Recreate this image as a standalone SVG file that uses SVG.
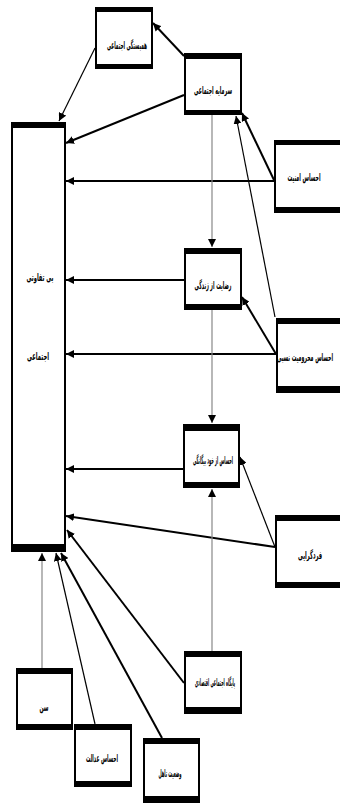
<svg xmlns="http://www.w3.org/2000/svg" width="340" height="803" viewBox="0 0 340 803">
<style>
.box{fill:#fff;stroke:#000;stroke-width:2}
.bar{fill:#000}
.t{font-family:"DejaVu Sans",sans-serif;font-size:11px;font-weight:bold;fill:#000;text-anchor:middle}
.thick{stroke:#000;stroke-width:2;fill:none}
.thin{stroke:#000;stroke-width:1.2;fill:none}
.gray{stroke:#888;stroke-width:1.2;fill:none}
</style>
<defs>
<marker id="ah" markerUnits="userSpaceOnUse" markerWidth="8" markerHeight="8" viewBox="0 0 8 8" refX="8" refY="4" orient="auto">
<path d="M0,0 L8,4 L0,8 Z" fill="#000"/>
</marker>
</defs>
<rect width="340" height="803" fill="#fff"/>
<g id="connectors">
<line class="thick" x1="184" y1="56" x2="153" y2="23" marker-end="url(#ah)"/>
<line class="thin" x1="95" y1="48" x2="59" y2="121" marker-end="url(#ah)"/>
<line class="thick" x1="184" y1="95" x2="66" y2="143" marker-end="url(#ah)"/>
<line class="thick" x1="274" y1="181" x2="66" y2="181" marker-end="url(#ah)"/>
<line class="thick" x1="274" y1="180" x2="242" y2="113" marker-end="url(#ah)"/>
<line class="thin" x1="275" y1="317" x2="236" y2="116" marker-end="url(#ah)"/>
<line class="gray" x1="212" y1="115" x2="212" y2="247" marker-end="url(#ah)"/>
<line class="thick" x1="184" y1="280" x2="66" y2="280" marker-end="url(#ah)"/>
<line class="thick" x1="276" y1="354" x2="66" y2="354" marker-end="url(#ah)"/>
<line class="thick" x1="276" y1="354" x2="242" y2="297" marker-end="url(#ah)"/>
<line class="gray" x1="212" y1="309" x2="212" y2="423" marker-end="url(#ah)"/>
<line class="thick" x1="183" y1="469" x2="66" y2="469" marker-end="url(#ah)"/>
<line class="thick" x1="275" y1="547" x2="66" y2="516" marker-end="url(#ah)"/>
<line class="thin" x1="275" y1="547" x2="240" y2="457" marker-end="url(#ah)"/>
<line class="gray" x1="212" y1="651" x2="212" y2="489" marker-end="url(#ah)"/>
<line class="thick" x1="184" y1="683" x2="67" y2="530" marker-end="url(#ah)"/>
<line class="gray" x1="42" y1="668" x2="42" y2="553" marker-end="url(#ah)"/>
<line class="thin" x1="95" y1="724" x2="56" y2="553" marker-end="url(#ah)"/>
<line class="thick" x1="162" y1="738" x2="61" y2="553" marker-end="url(#ah)"/>
</g>
<g id="n-apathy">
<rect class="box" x="12" y="123" width="53" height="428"/>
<rect class="bar" x="11" y="122" width="55" height="6"/>
<rect class="bar" x="11" y="544" width="55" height="8"/>
<text class="t" transform="translate(40,281) scale(0.5,1)" textLength="54" lengthAdjust="spacingAndGlyphs">بی تفاوتی</text>
<text class="t" transform="translate(38,360) scale(0.5,1)" textLength="44" lengthAdjust="spacingAndGlyphs">اجتماعی</text>
</g>
<g id="n-cohesion">
<rect class="box" x="96" y="8" width="56" height="59"/>
<rect class="bar" x="95" y="7" width="58" height="5"/>
<rect class="bar" x="95" y="64" width="58" height="5"/>
<text class="t" transform="translate(127,49) scale(0.5,1)" textLength="80" lengthAdjust="spacingAndGlyphs">همبستگی اجتماعی</text>
</g>
<g id="n-capital">
<rect class="box" x="185" y="54" width="56" height="60"/>
<rect class="bar" x="184" y="53" width="58" height="6"/>
<rect class="bar" x="184" y="110" width="58" height="5"/>
<text class="t" transform="translate(213,94) scale(0.5,1)" textLength="76" lengthAdjust="spacingAndGlyphs">سرمایه اجتماعی</text>
</g>
<g id="n-security">
<rect class="box" x="275" y="141" width="67" height="71"/>
<rect class="bar" x="274" y="140" width="68" height="5"/>
<rect class="bar" x="274" y="207" width="68" height="6"/>
<text class="t" transform="translate(304,181) scale(0.5,1)" textLength="66" lengthAdjust="spacingAndGlyphs">احساس امنیت</text>
</g>
<g id="n-satisfaction">
<rect class="box" x="185" y="249" width="56" height="59"/>
<rect class="bar" x="184" y="248" width="58" height="6"/>
<rect class="bar" x="184" y="304" width="58" height="6"/>
<text class="t" transform="translate(213,289) scale(0.5,1)" textLength="74" lengthAdjust="spacingAndGlyphs">رضایت از زندگی</text>
</g>
<g id="n-deprivation">
<rect class="box" x="277" y="319" width="65" height="73"/>
<rect class="bar" x="276" y="318" width="66" height="6"/>
<rect class="bar" x="276" y="386" width="66" height="7"/>
<text class="t" transform="translate(305,361) scale(0.35,1)" textLength="160" lengthAdjust="spacingAndGlyphs">احساس محرومیت نسبی</text>
</g>
<g id="n-alienation">
<rect class="box" x="184" y="425" width="55" height="62"/>
<rect class="bar" x="183" y="424" width="57" height="7"/>
<rect class="bar" x="183" y="482" width="57" height="6"/>
<text class="t" transform="translate(213,464) scale(0.5,1)" textLength="80" lengthAdjust="spacingAndGlyphs">احساس از خود بیگانگی</text>
</g>
<g id="n-individualism">
<rect class="box" x="276" y="516" width="66" height="71"/>
<rect class="bar" x="275" y="515" width="67" height="6"/>
<rect class="bar" x="275" y="582" width="67" height="6"/>
<text class="t" transform="translate(310,559) scale(0.5,1)" textLength="48" lengthAdjust="spacingAndGlyphs">فردگرایی</text>
</g>
<g id="n-ses">
<rect class="box" x="185" y="652" width="56" height="61"/>
<rect class="bar" x="184" y="651" width="58" height="6"/>
<rect class="bar" x="184" y="707" width="58" height="7"/>
<text class="t" transform="translate(215,686) scale(0.5,1)" textLength="80" lengthAdjust="spacingAndGlyphs">پایگاه اجتماعی اقتصادی</text>
</g>
<g id="n-age">
<rect class="box" x="17" y="669" width="55" height="60"/>
<rect class="bar" x="16" y="668" width="57" height="6"/>
<rect class="bar" x="16" y="724" width="57" height="6"/>
<text class="t" transform="translate(44,711) scale(0.5,1)" textLength="18" lengthAdjust="spacingAndGlyphs">سن</text>
</g>
<g id="n-justice">
<rect class="box" x="75" y="725" width="56" height="61"/>
<rect class="bar" x="74" y="724" width="58" height="6"/>
<rect class="bar" x="74" y="781" width="58" height="6"/>
<text class="t" transform="translate(102,762) scale(0.5,1)" textLength="64" lengthAdjust="spacingAndGlyphs">احساس عدالت</text>
</g>
<g id="n-marital">
<rect class="box" x="144" y="739" width="55" height="62"/>
<rect class="bar" x="143" y="738" width="57" height="6"/>
<rect class="bar" x="143" y="796" width="57" height="7"/>
<text class="t" transform="translate(170,777) scale(0.5,1)" textLength="46" lengthAdjust="spacingAndGlyphs">وضعیت تاهل</text>
</g>
</svg>
